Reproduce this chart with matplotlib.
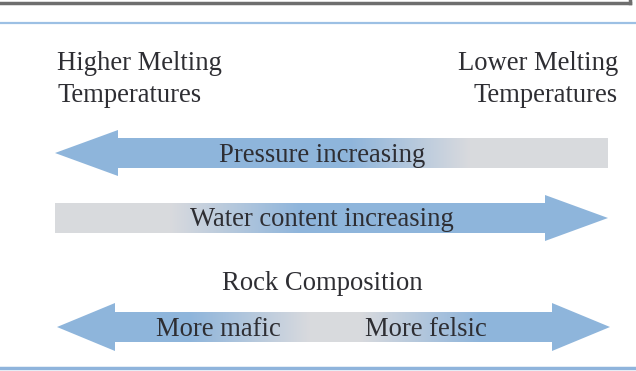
import numpy as np
import matplotlib.pyplot as plt
from matplotlib.patches import Polygon

plt.rcParams['font.family'] = ['Liberation Serif', 'DejaVu Serif']

left_label = ["Higher Melting", "Temperatures"]
right_label = ["Lower Melting", "Temperatures"]
arrow_texts = ["Pressure increasing", "Water content increasing"]
section_title = "Rock Composition"
composition = ["More mafic", "More felsic"]

blue = (0.56, 0.71, 0.86)
grey = (0.85, 0.855, 0.87)
txt = '#2e2e33'
fs = 19.2

fig = plt.figure(figsize=(6.36, 3.71), dpi=100)
ax = fig.add_axes([0, 0, 1, 1])
ax.set_xlim(0, 636)
ax.set_ylim(371, 0)
ax.axis('off')

# box edge at top and blue rules
ax.plot([0, 630], [3, 3], color='#6e6e6e', lw=2.5)
ax.plot([630, 630], [0, 3], color='#6e6e6e', lw=2.5)
ax.plot([0, 636], [23, 23], color='#9cc0e4', lw=1.6)
ax.plot([0, 636], [368, 368], color='#8fb4dc', lw=2.5)


def grad_arrow(pts, stops):
    xs = np.linspace(0, 636, 637)
    r = np.interp(xs, [s[0] for s in stops], [s[1][0] for s in stops])
    g = np.interp(xs, [s[0] for s in stops], [s[1][1] for s in stops])
    b = np.interp(xs, [s[0] for s in stops], [s[1][2] for s in stops])
    img = np.stack([r, g, b], axis=-1)[None, :, :]
    poly = Polygon(pts, closed=True, facecolor='none', edgecolor='none')
    ax.add_patch(poly)
    im = ax.imshow(img, extent=[0, 636, 371, 0], aspect='auto', zorder=1)
    im.set_clip_path(poly)


# pressure arrow (points left)
y, h, hh, hl = 153, 15, 23, 63
x0, x1 = 55, 608
grad_arrow([(x0, y), (x0 + hl, y - hh), (x0 + hl, y - h), (x1, y - h),
            (x1, y + h), (x0 + hl, y + h), (x0 + hl, y + hh)],
           [(0, blue), (350, blue), (470, grey), (636, grey)])
ax.text(322, y + 3, arrow_texts[0], ha='center', va='center', fontsize=fs, color=txt)

# water arrow (points right)
y = 218
grad_arrow([(x1, y), (x1 - hl, y - hh), (x1 - hl, y - h), (x0, y - h),
            (x0, y + h), (x1 - hl, y + h), (x1 - hl, y + hh)],
           [(0, grey), (170, grey), (300, blue), (636, blue)])
ax.text(322, y + 2, arrow_texts[1], ha='center', va='center', fontsize=fs, color=txt)

# temperature labels
for i, s in enumerate(left_label):
    ax.text(57, 64 + 32 * i, s, ha='left', va='center', fontsize=fs, color=txt)
for i, s in enumerate(right_label):
    ax.text(618, 64 + 32 * i, s, ha='right', va='center', fontsize=fs, color=txt)

ax.text(322, 284, section_title, ha='center', va='center', fontsize=fs, color=txt)

# double arrow
y, hl2 = 327, 58
x0, x1 = 57, 610
grad_arrow([(x0, y), (x0 + hl2, y - hh - 1), (x0 + hl2, y - h), (x1 - hl2, y - h),
            (x1 - hl2, y - hh - 1), (x1, y), (x1 - hl2, y + hh + 1), (x1 - hl2, y + h),
            (x0 + hl2, y + h), (x0 + hl2, y + hh + 1)],
           [(0, blue), (190, blue), (310, grey), (360, grey), (480, blue), (636, blue)])
ax.text(218, y + 2, composition[0], ha='center', va='center', fontsize=fs, color=txt)
ax.text(426, y + 2, composition[1], ha='center', va='center', fontsize=fs, color=txt)

fig.savefig('out.png', dpi=100)
